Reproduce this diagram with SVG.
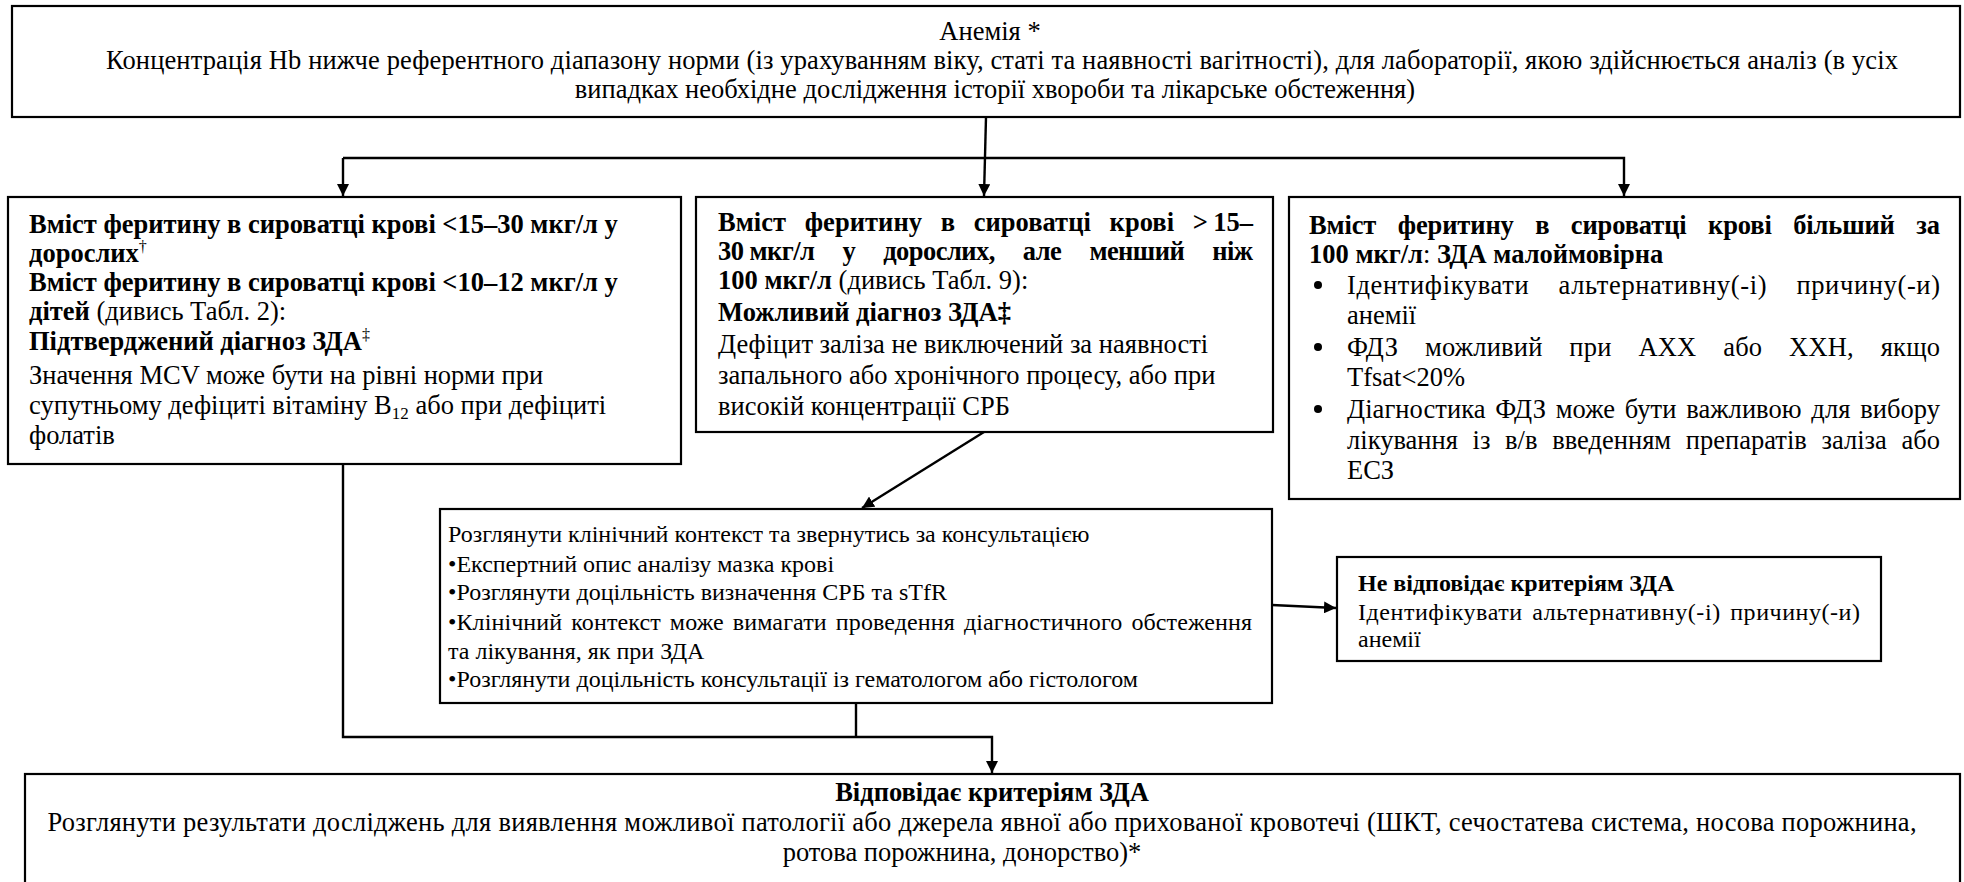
<svg xmlns="http://www.w3.org/2000/svg" width="1964" height="882" viewBox="0 0 1964 882" font-family="'Liberation Serif', 'Times New Roman', Times, serif">
<defs>
<style>
.box{fill:#fff;stroke:#000;stroke-width:2.2}
text{font-family:'Liberation Serif','Times New Roman',Times,serif;font-size:26.5px;fill:#000}
.s{font-size:24px}
.b{font-weight:bold}
.c{text-anchor:middle}
.con{fill:none;stroke:#000;stroke-width:2.4}
.sup{font-size:16px;font-weight:normal}
</style>
<marker id="ah" viewBox="0 0 10 10" refX="10" refY="5" markerWidth="5" markerHeight="5" markerUnits="strokeWidth" orient="auto">
<path d="M0,0 L10,5 L0,10 z" fill="#000"/>
</marker>
</defs>
<rect width="1964" height="882" fill="#fff"/>

<g id="connectors">
<line class="con" x1="986" y1="117" x2="984" y2="196" marker-end="url(#ah)"/>
<polyline class="con" points="343,158 1624,158 1624,196" marker-end="url(#ah)"/>
<line class="con" x1="343" y1="158" x2="343" y2="196" marker-end="url(#ah)"/>
<line class="con" x1="984" y1="432" x2="862" y2="508" marker-end="url(#ah)"/>
<line class="con" x1="1272" y1="605" x2="1336" y2="608" marker-end="url(#ah)"/>
<polyline class="con" points="343,464 343,737 992,737 992,773" marker-end="url(#ah)"/>
<line class="con" x1="856" y1="703" x2="856" y2="737"/>
</g>

<g id="anemia">
<rect class="box" x="12" y="6" width="1948" height="111"/>
<text class="c" x="990" y="40">Анемія *</text>
<text class="c" x="1002" y="69" textLength="1792" lengthAdjust="spacing">Концентрація Hb нижче референтного діапазону норми (із урахуванням віку, статі та наявності вагітності), для лабораторії, якою здійснюється аналіз (в усіх</text>
<text class="c" x="995" y="98">випадках необхідне дослідження історії хвороби та лікарське обстеження)</text>
</g>

<g id="low-ferritin">
<rect class="box" x="8" y="197" width="673" height="267"/>
<text class="b" x="29" y="233">Вміст феритину в сироватці крові &lt;15–30 мкг/л у</text>
<text class="b" x="29" y="262">дорослих<tspan class="sup" dy="-10">†</tspan></text>
<text class="b" x="29" y="291">Вміст феритину в сироватці крові &lt;10–12 мкг/л у</text>
<text x="29" y="320"><tspan class="b">дітей</tspan> (дивись Табл. 2):</text>
<text class="b" x="29" y="350">Підтверджений діагноз ЗДА<tspan class="sup" dy="-10">‡</tspan></text>
<text x="29" y="384">Значення MCV може бути на рівні норми при</text>
<text x="29" y="414">супутньому дефіциті вітаміну B<tspan font-size="17" dy="5">12</tspan><tspan dy="-5"> або при дефіциті</tspan></text>
<text x="29" y="444">фолатів</text>
</g>

<g id="mid-ferritin">
<rect class="box" x="696" y="197" width="577" height="235"/>
<text class="b" x="718" y="231" word-spacing="12" textLength="535" lengthAdjust="spacing">Вміст феритину в сироватці крові &gt;&#8201;15–</text>
<text class="b" x="718" y="260" word-spacing="22" textLength="535" lengthAdjust="spacing">30&#8197;мкг/л у дорослих, але менший ніж</text>
<text x="718" y="289"><tspan class="b">100 мкг/л</tspan> (дивись Табл. 9):</text>
<text class="b" x="718" y="321">Можливий діагноз ЗДА‡</text>
<text x="718" y="353">Дефіцит заліза не виключений за наявності</text>
<text x="718" y="384">запального або хронічного процесу, або при</text>
<text x="718" y="415">високій концентрації СРБ</text>
</g>

<g id="high-ferritin">
<rect class="box" x="1289" y="197" width="671" height="302"/>
<text class="b" x="1309" y="234" word-spacing="15" textLength="631" lengthAdjust="spacing">Вміст феритину в сироватці крові більший за</text>
<text x="1309" y="263"><tspan class="b">100 мкг/л</tspan>: <tspan class="b">ЗДА малоймовірна</tspan></text>
<circle cx="1318" cy="285" r="4"/>
<text x="1347" y="294" word-spacing="22" textLength="593" lengthAdjust="spacing">Ідентифікувати альтернативну(-і) причину(-и)</text>
<text x="1347" y="324">анемії</text>
<circle cx="1318" cy="347" r="4"/>
<text x="1347" y="356" word-spacing="20" textLength="593" lengthAdjust="spacing">ФДЗ можливий при АХХ або ХХН, якщо</text>
<text x="1347" y="386">Tfsat&lt;20%</text>
<circle cx="1318" cy="409" r="4"/>
<text x="1347" y="418" word-spacing="3" textLength="593" lengthAdjust="spacing">Діагностика ФДЗ може бути важливою для вибору</text>
<text x="1347" y="449" word-spacing="8" textLength="593" lengthAdjust="spacing">лікування із в/в введенням препаратів заліза або</text>
<text x="1347" y="479">ЕСЗ</text>
</g>

<g id="consult">
<rect class="box" x="440" y="509" width="832" height="194"/>
<text class="s" x="448" y="542">Розглянути клінічний контекст та звернутись за консультацією</text>
<text class="s" x="448" y="572">•Експертний опис аналізу мазка крові</text>
<text class="s" x="448" y="600">•Розглянути доцільність визначення СРБ та sTfR</text>
<text class="s" x="448" y="630" word-spacing="3" textLength="804" lengthAdjust="spacing">•Клінічний контекст може вимагати проведення діагностичного обстеження</text>
<text class="s" x="448" y="659">та лікування, як при ЗДА</text>
<text class="s" x="448" y="687">•Розглянути доцільність консультації із гематологом або гістологом</text>
</g>

<g id="not-ida">
<rect class="box" x="1337" y="557" width="544" height="104"/>
<text class="s b" x="1358" y="591">Не відповідає критеріям ЗДА</text>
<text class="s" x="1358" y="620" word-spacing="3" textLength="502" lengthAdjust="spacing">Ідентифікувати альтернативну(-і) причину(-и)</text>
<text class="s" x="1358" y="647">анемії</text>
</g>

<g id="ida">
<rect class="box" x="25" y="774" width="1935" height="130"/>
<text class="b c" x="992" y="801">Відповідає критеріям ЗДА</text>
<text class="c" x="982" y="831" textLength="1869" lengthAdjust="spacing">Розглянути результати досліджень для виявлення можливої патології або джерела явної або прихованої кровотечі (ШКТ, сечостатева система, носова порожнина,</text>
<text class="c" x="962" y="861">ротова порожнина, донорство)*</text>
</g>
</svg>
